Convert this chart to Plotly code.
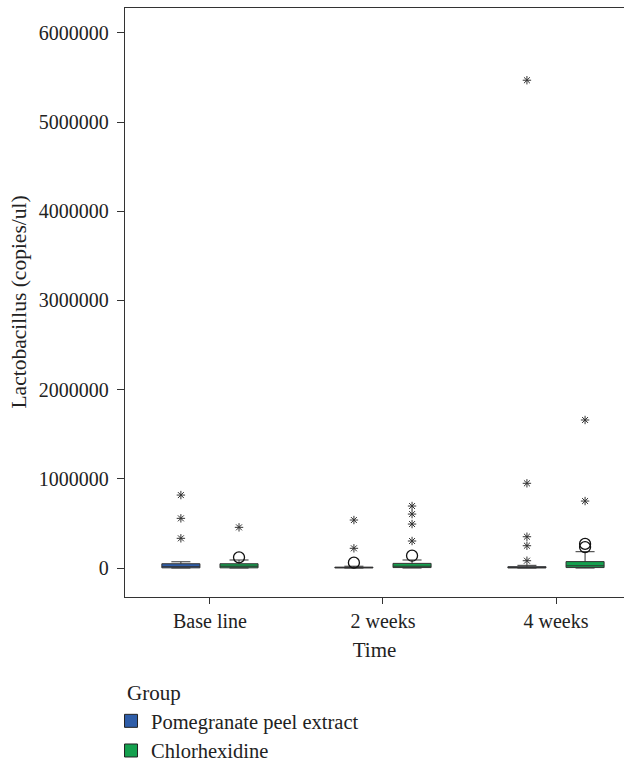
import plotly.graph_objects as go

times = ["Base line", "2 weeks", "4 weeks"]
groups = ["Pomegranate peel extract", "Chlorhexidine"]
colors = ["#2E5DA8", "#14A04E"]

# box statistics per group (one value per time point)
q1 = {
    "Pomegranate peel extract": [2000, 1000, 1000],
    "Chlorhexidine": [2000, 5000, 5000],
}
median = {
    "Pomegranate peel extract": [15000, 5000, 5000],
    "Chlorhexidine": [20000, 20000, 25000],
}
q3 = {
    "Pomegranate peel extract": [48000, 10000, 15000],
    "Chlorhexidine": [48000, 52000, 72000],
}
lower = {
    "Pomegranate peel extract": [0, 0, 0],
    "Chlorhexidine": [0, 0, 0],
}
upper = {
    "Pomegranate peel extract": [70000, 20000, 30000],
    "Chlorhexidine": [90000, 90000, 183000],
}
# outliers (circles) and extreme values (stars) per time point
outliers = {
    "Pomegranate peel extract": [[], [60000], []],
    "Chlorhexidine": [[120000], [138000], [270000, 235000]],
}
extremes = {
    "Pomegranate peel extract": [[818000, 557000, 333000], [538000, 221000],
                                 [5470000, 950000, 351000, 250000, 82000]],
    "Chlorhexidine": [[456000], [695000, 605000, 493000, 303000], [1660000, 751000]],
}

offsets = [-0.168, 0.168]
box_w = 0.22
font = "Liberation Serif, Times New Roman, serif"

fig = go.Figure()
for gi, g in enumerate(groups):
    xs = [i + offsets[gi] for i in range(len(times))]
    fig.add_trace(go.Box(
        x=xs, q1=q1[g], median=median[g], q3=q3[g],
        lowerfence=lower[g], upperfence=upper[g],
        width=box_w, whiskerwidth=0.5,
        fillcolor=colors[gi], line=dict(color="#333333", width=1),
        showlegend=False, hoverinfo="skip",
    ))
    ox, oy, ex, ey = [], [], [], []
    for i in range(len(times)):
        for v in outliers[g][i]:
            ox.append(xs[i]); oy.append(v)
        for v in extremes[g][i]:
            ex.append(xs[i]); ey.append(v)
    fig.add_trace(go.Scatter(
        x=ox, y=oy, mode="markers", showlegend=False,
        marker=dict(symbol="circle-open", size=11, color="#111111", line=dict(width=1.3)),
    ))
    fig.add_trace(go.Scatter(
        x=ex, y=ey, mode="markers", showlegend=False,
        marker=dict(symbol="asterisk-open", size=7, color="#333333", line=dict(width=1)),
    ))

for gi, g in enumerate(groups):
    fig.add_trace(go.Scatter(
        x=[None], y=[None], mode="markers", name=g,
        marker=dict(symbol="square", size=13, color=colors[gi],
                    line=dict(color="#222222", width=1)),
    ))

fig.update_layout(
    width=624, height=763,
    margin=dict(l=125, r=0, t=8, b=166, autoexpand=False),
    paper_bgcolor="white", plot_bgcolor="white",
    font=dict(family=font, size=20, color="#222222"),
    showlegend=True,
    legend=dict(
        x=-0.028, xanchor="left", y=-0.1766, yanchor="top",
        font=dict(size=20.5), itemsizing="trace", tracegroupgap=0,
        bgcolor="rgba(0,0,0,0)",
    ),
    annotations=[
        dict(text="Group", xref="paper", yref="paper", x=0, xanchor="left",
             y=-0.163, yanchor="middle", showarrow=False, font=dict(size=21)),
        dict(text="Lactobacillus (copies/ul)", xref="paper", yref="paper",
             x=-0.2144, xanchor="center", y=0.5, yanchor="middle",
             textangle=-90, showarrow=False, font=dict(size=21.5)),
    ],
)
fig.update_xaxes(
    range=[-0.491, 2.393],
    tickvals=list(range(len(times))), ticktext=times,
    tickfont=dict(size=20),
    ticks="outside", ticklen=6, tickcolor="#333333",
    showline=True, linecolor="#333333", linewidth=1.3, mirror=True,
    showgrid=False, zeroline=False,
    title=dict(text="Time", standoff=11, font=dict(size=21)),
)
fig.update_yaxes(
    range=[-325000, 6280000],
    tickvals=[0, 1000000, 2000000, 3000000, 4000000, 5000000, 6000000],
    ticktext=["0", "1000000", "2000000", "3000000", "4000000", "5000000", "6000000"],
    tickfont=dict(size=20), ticklabelstandoff=4,
    ticks="outside", ticklen=7, tickcolor="#333333",
    showline=True, linecolor="#333333", linewidth=1.3, mirror=False,
    showgrid=False, zeroline=False,
)

fig.write_html("out.html")
